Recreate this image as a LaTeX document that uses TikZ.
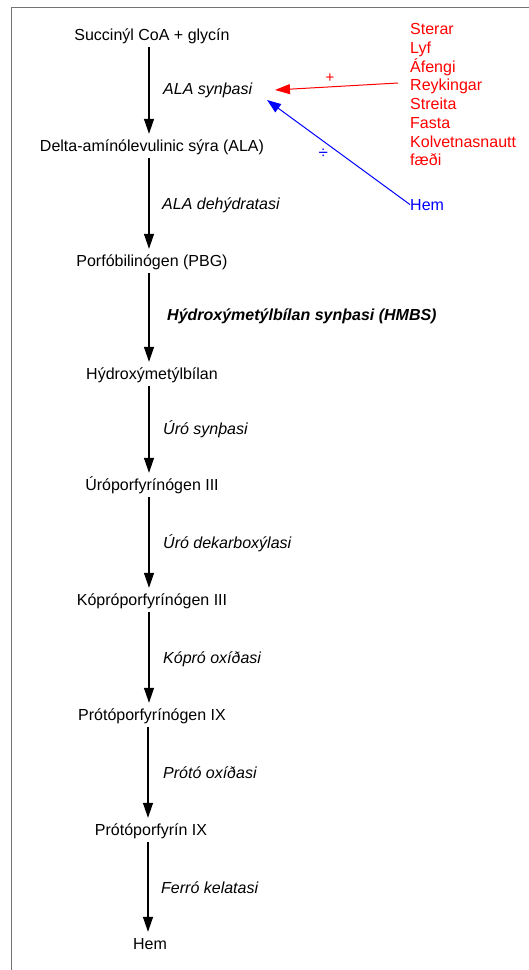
\documentclass[tikz,border=0pt]{standalone}
\usepackage{fontspec}
\setmainfont{Liberation Sans}
\usetikzlibrary{arrows.meta}
\definecolor{framegray}{RGB}{115,115,115}
\tikzset{
  stage/.style={font=\fontsize{16}{18.7}\selectfont, inner sep=0pt, text height=17pt, text depth=7pt, anchor=base},
  enz/.style={font=\fontsize{16}{18.7}\selectfont\itshape, inner sep=0pt, anchor=base west},
  enzb/.style={font=\fontsize{16}{18.7}\selectfont\bfseries\itshape, inner sep=0pt, anchor=base west},
  flow/.style={black, line width=1.3pt, -{Triangle[width=10pt,length=15pt]}},
  promote/.style={red, line width=1pt, -{Triangle[width=10pt,length=15pt]}},
  inhibit/.style={blue, line width=1pt, -{Triangle[width=10pt,length=14pt]}},
}
\begin{document}
\begin{tikzpicture}[x=1pt,y=-1pt]
\useasboundingbox (0,0) rectangle (529,970);
\fill[white] (0,0) rectangle (529,970);
\draw[framegray, line width=1.3pt] (11.5,971) -- (11.5,7.5) -- (530,7.5);

% stages
\node[stage] (n1) at (152,40) {Succinýl CoA + glycín};
\node[stage] (n2) at (152,151) {Delta-amínólevulinic sýra (ALA)};
\node[stage] (n3) at (152,266) {Porfóbilinógen (PBG)};
\node[stage] (n4) at (152,379) {Hýdroxýmetýlbílan};
\node[stage] (n5) at (152,490) {Úróporfyrínógen III};
\node[stage] (n6) at (152,605) {Kópróporfyrínógen III};
\node[stage] (n7) at (152,720) {Prótóporfyrínógen IX};
\node[stage] (n8) at (151,835) {Prótóporfyrín IX};
\node[stage] (n9) at (150,949) {Hem};

% enzymes
\node[enz]  (e1) at (163,94)  {ALA synþasi};
\node[enz]  (e2) at (162,209) {ALA dehýdratasi};
\node[enzb] (e3) at (167,320) {Hýdroxýmetýlbílan synþasi (HMBS)};
\node[enz]  (e4) at (163,434) {Úró synþasi};
\node[enz]  (e5) at (163,548) {Úró dekarboxýlasi};
\node[enz]  (e6) at (163,663) {Kópró oxíðasi};
\node[enz]  (e7) at (163,778) {Prótó oxíðasi};
\node[enz]  (e8) at (161,893) {Ferró kelatasi};

% arrows (vertical)
\draw[flow] ([xshift=-3pt]n1.south) -- ([xshift=-3pt]n1.south |- n2.north);
\draw[flow] ([xshift=-3pt]n2.south) -- ([xshift=-3pt]n2.south |- n3.north);
\draw[flow] ([xshift=-3pt]n3.south) -- ([xshift=-3pt]n3.south |- n4.north);
\draw[flow] ([xshift=-3pt]n4.south) -- ([xshift=-3pt]n4.south |- n5.north);
\draw[flow] ([xshift=-3pt]n5.south) -- ([xshift=-3pt]n5.south |- n6.north);
\draw[flow] ([xshift=-3pt]n6.south) -- ([xshift=-3pt]n6.south |- n7.north);
\draw[flow] ([xshift=-4pt]n7.south) -- ([xshift=-4pt]n7.south |- n8.north);
\draw[flow] ([xshift=-3pt]n8.south) -- ([xshift=-3pt]n8.south |- n9.north);

% regulators
\node[red, font=\fontsize{16}{18.7}\selectfont, inner sep=0pt, anchor=north west, align=left] (causes) at (410,23.5)
  {Sterar\\Lyf\\Áfengi\\Reykingar\\Streita\\Fasta\\Kolvetnasnautt\\fæði};
\node[blue, font=\fontsize{16}{18.7}\selectfont, inner sep=0pt, anchor=base west] (bhem) at (410,210) {Hem};

\coordinate (rs) at (398,83);
\coordinate (rt) at (275,90);
\coordinate (bt) at (267,100);
\draw[promote] (rs) -- (rt);
\draw[inhibit] (bhem.west) -- (bt);
\node[red, font=\fontsize{15}{17}\selectfont, inner sep=0pt] (plus) at (330,77.7) {+};
\node[blue, font=\fontsize{17}{19}\selectfont, inner sep=0pt] (div) at (323.3,153.8) {÷};
\end{tikzpicture}
\end{document}
